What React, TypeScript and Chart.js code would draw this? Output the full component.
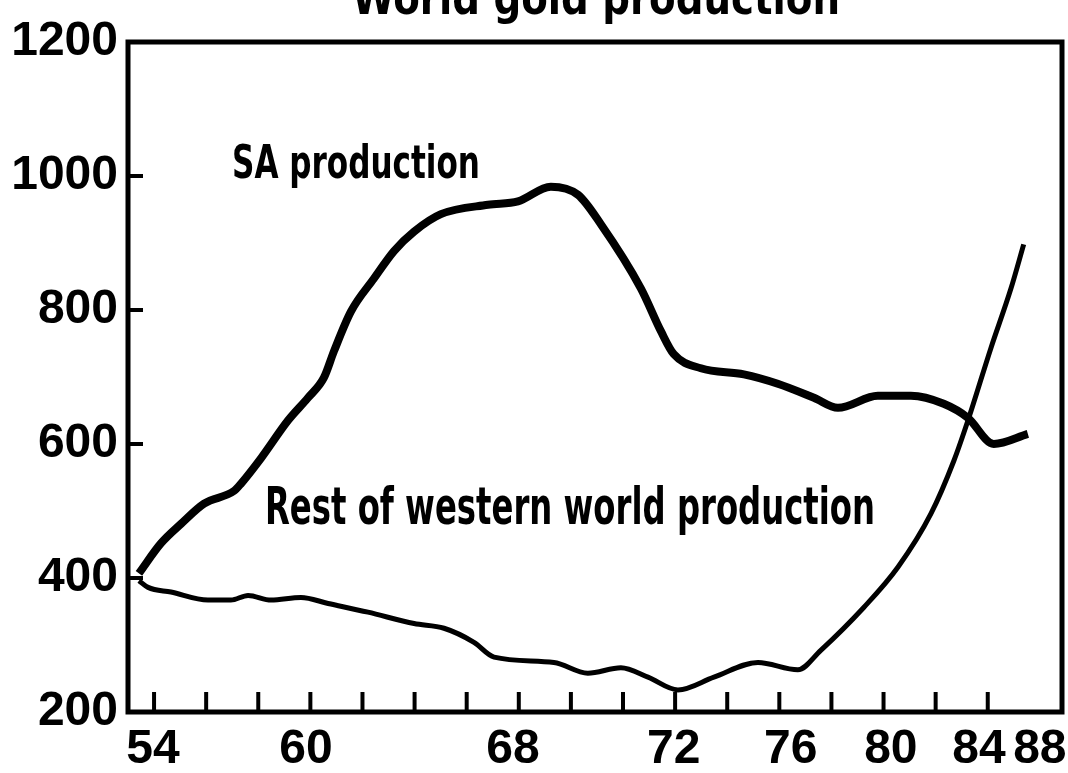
import React, { useEffect, useRef } from "react";
import { Chart, registerables } from "chart.js";

Chart.register(...registerables);

// SA production
const saYears = [53.42, 54.27, 55.04, 55.92, 57.07, 57.34, 58.11, 59.14, 59.91, 60.52, 60.91, 61.56, 62.44, 63.21, 63.98, 65.01, 66.82, 67.97, 69.23, 70.27, 71.15, 72.69, 73.46, 73.95, 74.99, 76.64, 77.94, 79.33, 80.25, 81.78, 83.05, 84.31, 85.24, 86.23, 87.54];
const saValues = [407, 452, 481, 511, 530, 541, 579, 635, 669, 699, 739, 798, 847, 888, 917, 943, 957, 962, 984, 972, 928, 832, 768, 734, 713, 704, 690, 669, 654, 672, 672, 660, 639, 600, 615];

// Rest of western world production
const rowYears = [53.42, 53.77, 54.65, 56.07, 56.95, 57.61, 58.49, 59.64, 60.68, 62.21, 63.98, 65.13, 66.28, 67.05, 69.35, 70.65, 71.92, 72.96, 74.11, 75.49, 77.18, 78.71, 79.59, 81.24, 82.55, 83.82, 84.7, 85.24, 86.12, 86.89, 87.38];
const rowValues = [396, 386, 379, 367, 367, 374, 367, 371, 362, 349, 332, 325, 304, 282, 274, 258, 266, 252, 233, 252, 274, 263, 292, 356, 416, 496, 575, 635, 743, 832, 898];

// Tick marks on the year axis (every two years)
const tickYears = [54, 56, 58, 60, 62, 64, 66, 68, 70, 72, 74, 76, 78, 80, 82, 84, 86];
// Printed year labels and where they sit along the axis
const labelPositions = [53.96, 59.83, 67.78, 73.95, 78.44, 82.28, 85.66, 88.0];
const labelTexts = ["54", "60", "68", "72", "76", "80", "84", "88"];
const yTicks = [200, 400, 600, 800, 1000, 1200];

const titleText = "World gold production";
const saLabel = "SA production";
const rowLabel = "Rest of western world production";

const FONT = '"Liberation Sans Narrow", "DejaVu Sans Condensed", "Roboto", sans-serif';
const TICK_FONT = '"Liberation Sans", Arial, sans-serif';

function drawFit(ctx: CanvasRenderingContext2D, text: string, x0: number, x1: number, baseline: number, size: number) {
  ctx.save();
  ctx.font = `bold ${size}px ${FONT}`;
  const w = ctx.measureText(text).width;
  const sx = (x1 - x0) / w;
  ctx.translate(x0, baseline);
  ctx.scale(sx, 1);
  ctx.textAlign = "left";
  ctx.textBaseline = "alphabetic";
  ctx.fillStyle = "#000";
  ctx.fillText(text, 0, 0);
  ctx.restore();
}

const framePlugin = {
  id: "frame",
  afterDraw(chart: any) {
    const { ctx, chartArea } = chart;
    const { left, right, top, bottom } = chartArea;
    const xs = chart.scales.x;
    const ys = chart.scales.y;
    ctx.save();
    ctx.strokeStyle = "#000";
    ctx.lineWidth = 5;
    ctx.strokeRect(left, top, right - left, bottom - top);
    ctx.lineWidth = 4;
    tickYears.forEach((v) => {
      const px = xs.getPixelForValue(v);
      ctx.beginPath();
      ctx.moveTo(px, bottom);
      ctx.lineTo(px, bottom - 20);
      ctx.stroke();
    });
    yTicks.slice(1, -1).forEach((v) => {
      const py = ys.getPixelForValue(v);
      ctx.beginPath();
      ctx.moveTo(left, py);
      ctx.lineTo(left + 15, py);
      ctx.stroke();
    });
    ctx.restore();
    drawFit(ctx, titleText, 352, 840, 14, 46);
    drawFit(ctx, saLabel, 232, 480, 178, 47);
    drawFit(ctx, rowLabel, 265, 875, 524, 52);
  },
};

export default function App() {
  const ref = useRef<HTMLCanvasElement | null>(null);
  useEffect(() => {
    if (!ref.current) return;
    const tickFont = { family: TICK_FONT, size: 48, weight: "bold" as const, lineHeight: 1 };
    const chart = new Chart(ref.current, {
      type: "line",
      data: {
        datasets: [
          {
            label: saLabel,
            data: saYears.map((x, i) => ({ x, y: saValues[i] })),
            borderColor: "#000",
            borderWidth: 8,
            pointRadius: 0,
            cubicInterpolationMode: "monotone",
            fill: false,
          },
          {
            label: rowLabel,
            data: rowYears.map((x, i) => ({ x, y: rowValues[i] })),
            borderColor: "#000",
            borderWidth: 5,
            pointRadius: 0,
            cubicInterpolationMode: "monotone",
            fill: false,
          },
        ],
      },
      options: {
        animation: false,
        responsive: false,
        devicePixelRatio: 1,
        layout: { padding: { top: 42, right: 6, left: 0, bottom: 0 } },
        plugins: { legend: { display: false }, tooltip: { enabled: false }, title: { display: false } },
        scales: {
          x: {
            type: "linear",
            min: 53,
            max: 88.85,
            afterBuildTicks: (s: any) => {
              s.ticks = labelPositions.map((v) => ({ value: v }));
            },
            afterFit: (s: any) => {
              s.height = 61;
              s.paddingLeft = 0;
              s.paddingRight = 0;
            },
            ticks: {
              autoSkip: false,
              maxRotation: 0,
              minRotation: 0,
              padding: 14,
              color: "#000",
              font: tickFont,
              callback: (v: any, i: number) => labelTexts[i] ?? "",
            },
            grid: { display: false, drawTicks: false },
            border: { display: false },
          },
          y: {
            min: 200,
            max: 1200,
            afterBuildTicks: (s: any) => {
              s.ticks = yTicks.map((v) => ({ value: v }));
            },
            afterFit: (s: any) => {
              s.width = 128;
              s.paddingTop = 0;
              s.paddingBottom = 0;
            },
            ticks: {
              padding: 10,
              color: "#000",
              font: tickFont,
              callback: (v: any) => String(v),
            },
            grid: { display: false, drawTicks: false },
            border: { display: false },
          },
        },
      },
      plugins: [framePlugin],
    });
    return () => chart.destroy();
  }, []);
  return (
    <div style={{ position: "fixed", left: 0, top: 0, width: 1068, height: 773, background: "#fff" }}>
      <canvas ref={ref} width={1068} height={773} style={{ display: "block" }} />
    </div>
  );
}
